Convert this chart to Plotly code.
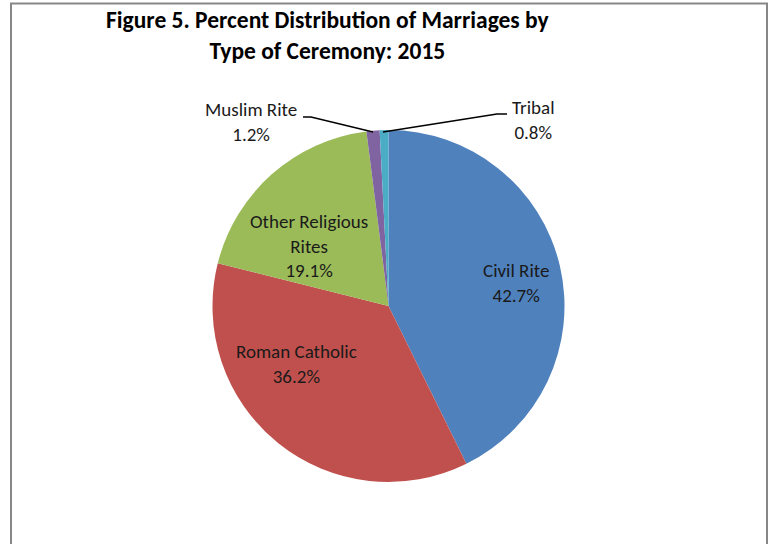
import plotly.graph_objects as go

categories = ["Civil Rite", "Roman Catholic", "Other Religious Rites", "Muslim Rite", "Tribal"]
values = [42.7, 36.2, 19.1, 1.2, 0.8]
colors = ["#4F81BD", "#C0504D", "#9BBB59", "#8064A2", "#4BACC6"]
label_texts = ["Civil Rite", "Roman Catholic", "Other Religious<br>Rites", "Muslim Rite", "Tribal"]

W, H = 770, 544
FONT = "Calibri, Carlito, Lato"

def px(x):
    return x / W

def py(y):
    return 1 - y / H

cx, cy, r = 388.5, 306, 176

fig = go.Figure(go.Pie(
    labels=categories,
    values=values,
    marker=dict(colors=colors, line=dict(width=0)),
    sort=False,
    direction="clockwise",
    rotation=0,
    textinfo="none",
    hoverinfo="label+percent",
    showlegend=False,
    domain=dict(x=[px(cx - r), px(cx + r)], y=[py(cy + r), py(cy - r)]),
))

# label positions (pixel centres in the window)
label_pos = [(516, 283), (296, 364), (309, 246), (251, 122), (533, 120)]
annotations = []
for name, txt, v, (x, y) in zip(categories, label_texts, values, label_pos):
    annotations.append(dict(
        x=px(x), y=py(y), xref="paper", yref="paper",
        text=f"{txt}<br>{v:.1f}%", showarrow=False,
        font=dict(family=FONT, size=19, color="#1a1a1a"),
        xanchor="center", yanchor="middle", align="center",
    ))

annotations.append(dict(
    x=px(328), y=py(36), xref="paper", yref="paper",
    text="<b>Figure 5. Percent Distribution of Marriages by<br>Type of Ceremony: 2015</b>",
    showarrow=False, font=dict(family=FONT, size=23.5, color="#000000"),
    xanchor="center", yanchor="middle", align="center",
))

shapes = [
    # chart frame
    dict(type="rect", xref="paper", yref="paper",
         x0=px(11), x1=px(767), y0=py(570), y1=py(3.5),
         line=dict(color="#878787", width=2), fillcolor="rgba(0,0,0,0)"),
    # leader lines
    dict(type="path", xref="paper", yref="paper",
         path=f"M {px(303)},{py(117)} L {px(311)},{py(117)} L {px(373)},{py(132)}",
         line=dict(color="#000000", width=1.5)),
    dict(type="path", xref="paper", yref="paper",
         path=f"M {px(507)},{py(114)} L {px(497)},{py(114)} L {px(383)},{py(132)}",
         line=dict(color="#000000", width=1.5)),
]

fig.update_layout(
    width=W, height=H,
    margin=dict(l=0, r=0, t=0, b=0),
    paper_bgcolor="white", plot_bgcolor="white",
    annotations=annotations, shapes=shapes,
)

fig.write_html(
    "out.html",
    config={"displayModeBar": False},
    post_script="document.body.style.margin='0';document.body.style.overflow='hidden';",
)
